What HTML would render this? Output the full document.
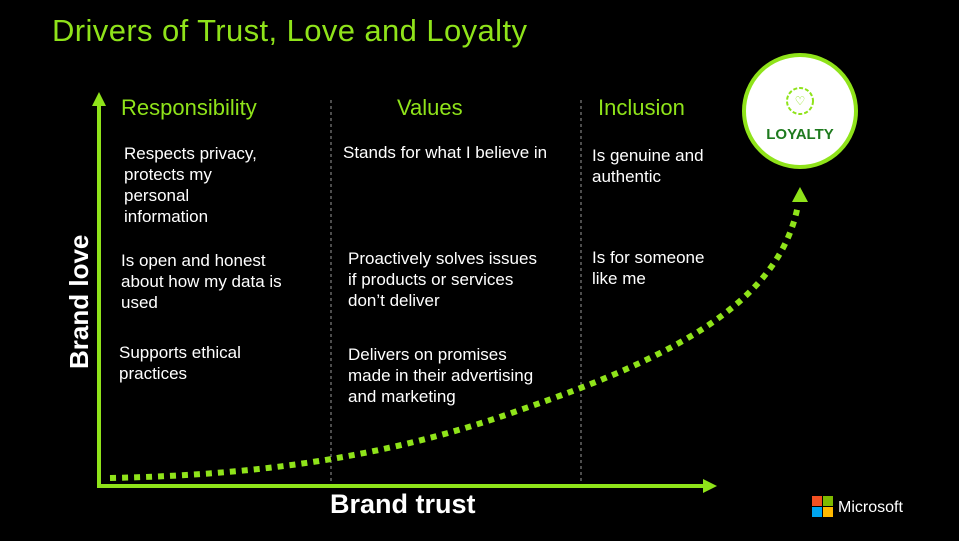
<!DOCTYPE html>
<html><head><meta charset="utf-8"><style>
html,body{margin:0;padding:0;background:#000;}
#c{position:relative;width:959px;height:541px;background:#000;overflow:hidden;font-family:"Liberation Sans",sans-serif;}
.t{position:absolute;color:#fff;font-size:17px;line-height:21px;white-space:nowrap;}
.h{position:absolute;color:#8fe31a;font-size:22px;}
</style></head><body><div id="c">
<div style="position:absolute;left:52px;top:13px;color:#8fe31a;font-size:31px;letter-spacing:0.4px;">Drivers of Trust, Love and Loyalty</div>
<svg width="959" height="541" style="position:absolute;left:0;top:0">
<line x1="331" y1="100" x2="331" y2="486" stroke="#999" stroke-width="1" stroke-dasharray="3 3"/>
<line x1="581" y1="100" x2="581" y2="486" stroke="#999" stroke-width="1" stroke-dasharray="3 3"/>
<line x1="99" y1="105" x2="99" y2="487" stroke="#8fe31a" stroke-width="4"/>
<polygon points="99,92 92,106 106,106" fill="#8fe31a"/>
<line x1="97" y1="486" x2="705" y2="486" stroke="#8fe31a" stroke-width="4"/>
<polygon points="717,486 703,479 703,493" fill="#8fe31a"/>
<path d="M110,478 C250,475 380,460 520,410 C680,355 780,300 798,205" fill="none" stroke="#8fe31a" stroke-width="6" stroke-dasharray="6 6"/>
<polygon points="800,187 792,202 808,202" fill="#8fe31a"/>
<circle cx="800" cy="111" r="56" fill="#fff" stroke="#8fe31a" stroke-width="4"/>
<circle cx="800" cy="101" r="13" fill="none" stroke="#8fe31a" stroke-width="2" stroke-dasharray="4 2"/>
<text x="800" y="105" fill="#8fe31a" font-size="12" text-anchor="middle">♡</text>
<text x="800" y="139" fill="#1e7a1e" font-size="15" font-weight="bold" text-anchor="middle" font-family="Liberation Sans">LOYALTY</text>
<rect x="812" y="496" width="10" height="10" fill="#f25022"/><rect x="823" y="496" width="10" height="10" fill="#7fba00"/>
<rect x="812" y="507" width="10" height="10" fill="#00a4ef"/><rect x="823" y="507" width="10" height="10" fill="#ffb900"/>
<text x="838" y="512" fill="#fff" font-size="16" font-family="Liberation Sans">Microsoft</text>
</svg>
<div style="position:absolute;left:64px;top:369px;transform:rotate(-90deg);transform-origin:0 0;color:#fff;font-size:26px;font-weight:bold;white-space:nowrap;">Brand love</div>
<div style="position:absolute;left:330px;top:489px;color:#fff;font-size:27px;font-weight:bold;">Brand trust</div>
<div class="h" style="left:121px;top:95px">Responsibility</div>
<div class="h" style="left:397px;top:95px">Values</div>
<div class="h" style="left:598px;top:95px">Inclusion</div>
<div class="t" style="left:124px;top:143px">Respects privacy,<br>protects my<br>personal<br>information</div>
<div class="t" style="left:121px;top:250px">Is open and honest<br>about how my data is<br>used</div>
<div class="t" style="left:119px;top:342px">Supports ethical<br>practices</div>
<div class="t" style="left:343px;top:142px">Stands for what I believe in</div>
<div class="t" style="left:348px;top:248px">Proactively solves issues<br>if products or services<br>don’t deliver</div>
<div class="t" style="left:348px;top:344px">Delivers on promises<br>made in their advertising<br>and marketing</div>
<div class="t" style="left:592px;top:145px">Is genuine and<br>authentic</div>
<div class="t" style="left:592px;top:247px">Is for someone<br>like me</div>
</div></body></html>
